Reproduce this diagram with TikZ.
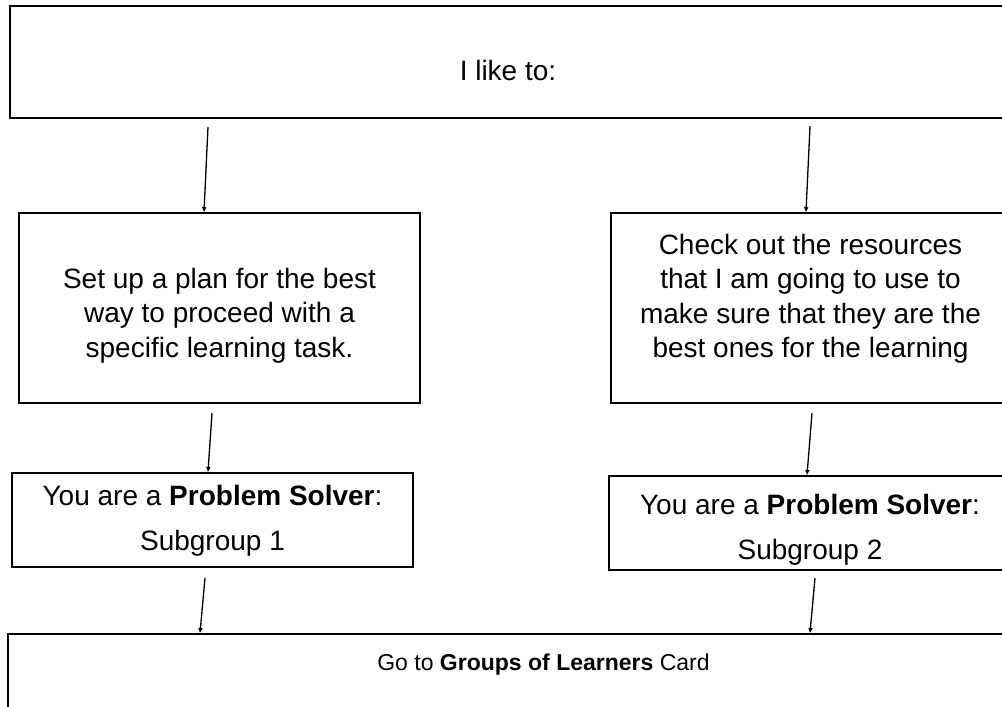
\documentclass[tikz,border=0pt]{standalone}
\usepackage{fontspec}
\setmainfont{Liberation Sans}
\usetikzlibrary{arrows.meta,fit}
\begin{document}
\begin{tikzpicture}[x=1pt,y=-1pt,
  box/.style={draw, line width=2.8pt, inner sep=0pt},
  arr/.style={line width=1.3pt, -{Triangle[width=4pt,length=5pt]}},
  txt/.style={font=\fontsize{28}{34.5}\selectfont, align=center, inner sep=0pt},
  txttwo/.style={font=\fontsize{28}{45}\selectfont, align=center, inner sep=0pt},
  txtthree/.style={font=\fontsize{23}{28}\selectfont, align=center, inner sep=0pt}]
\useasboundingbox (0,0) rectangle (1002,707);
\clip (0,0) rectangle (1002,707);
\fill[white] (0,0) rectangle (1002,707);
% boxes
\node[box, fit={(10,6)(1006,118)}] (top) {};
\node[txt] (toptext) at (508,70.5) {I like to:};
\node[box, fit={(19,213)(420,403)}] (plan) {};
\node[txt] (plantext) at (219.5,315.5) {Set up a plan for the best\\way to proceed with a\\specific learning task.};
\node[box, fit={(611,213)(1010,403)}] (res) {};
\node[txt] (restext) at (810.5,299) {Check out the resources\\that I am going to use to\\make sure that they are the\\best ones for the learning};
\node[box, fit={(12,473)(413,567)}] (sgone) {};
\node[txttwo] (sgonetext) at (212.5,521) {You are a \textbf{Problem Solver}:\\Subgroup 1};
\node[box, fit={(609,476)(1011,570)}] (sgtwo) {};
\node[txttwo] (sgtwotext) at (810,530) {You are a \textbf{Problem Solver}:\\Subgroup 2};
\node[box, fit={(8,634)(1079,760)}] (bot) {};
\node[txtthree] (bottext) at (543.5,665) {Go to \textbf{Groups of Learners} Card};
% connectors
\coordinate (aone) at (208,127);   \coordinate (bone) at (204,212);
\coordinate (atwo) at (810,126);   \coordinate (btwo) at (806,212);
\coordinate (athree) at (212,413); \coordinate (bthree) at (208,472);
\coordinate (afour) at (812,413);  \coordinate (bfour) at (807,475);
\coordinate (afive) at (205,578);  \coordinate (bfive) at (200,633);
\coordinate (asix) at (815,578);   \coordinate (bsix) at (810,633);
\draw[arr] (aone) -- (bone);
\draw[arr] (atwo) -- (btwo);
\draw[arr] (athree) -- (bthree);
\draw[arr] (afour) -- (bfour);
\draw[arr] (afive) -- (bfive);
\draw[arr] (asix) -- (bsix);
\end{tikzpicture}
\end{document}
